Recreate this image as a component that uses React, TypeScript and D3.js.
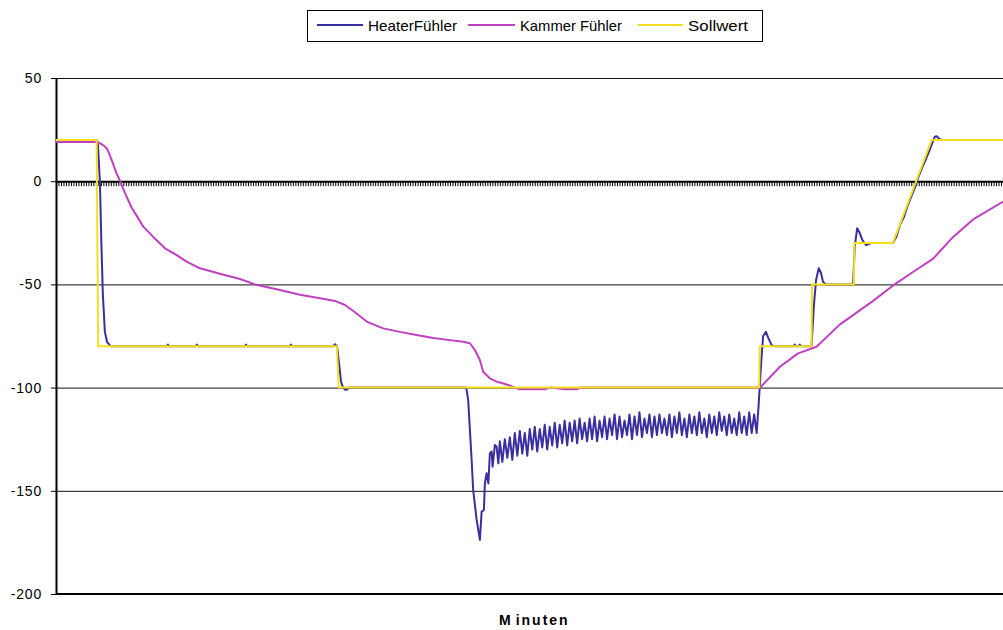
import React, { useEffect, useRef } from 'react'
import * as d3 from 'd3'

// categories on the x axis (one per minute), y axis ticks
const minuteCount = 385
const yTicks = [-200, -150, -100, -50, 0, 50]
const gridTicks = [-150, -100, -50, 50]

const seriesNames = ['HeaterFühler', 'Kammer Fühler', 'Sollwert']
const seriesColors = ['#3a2f9f', '#c13fc1', '#f4e01f']

// [minute, value]
const heaterStart = [
    [0, 20], [16.3, 20], [16.8, 18], [17.6, 0], [18.2, -30], [18.8, -55], [19.6, -73], [20.5, -78], [22, -80],
    [44.4, -80], [44.9, -79.2], [45.4, -80], [56, -80], [56.5, -79.2], [57, -80],
    [75.7, -80], [76.2, -79.2], [76.7, -80], [93.7, -80], [94.2, -79.2], [94.7, -80],
    [111.1, -80], [111.9, -79], [112.7, -80], [113.5, -88], [114.3, -97], [115.1, -100], [115.9, -101], [116.7, -101], [117.5, -100],
    [164.4, -100], [164.7, -101.2], [165.3, -106], [166, -120.6], [166.7, -135.3], [167.3, -149.6], [168.7, -164.1],
    [170, -173.8], [170.7, -160.1], [171.6, -159.3], [172, -146.4], [172.7, -141.5], [173.4, -146.4], [174, -131.8],
    [174.7, -131], [175.1, -138.3], [176, -127.8], [176.7, -128.6], [177.4, -136.7],
]

// one value per minute from heaterRippleFrom on
const heaterRippleFrom = 178
const heaterRipple = [
    -126, -136, -125, -134, -124, -135, -122, -133, -121, -132,
    -122, -133, -120, -130, -119, -131, -120, -129, -118, -130,
    -119, -128, -117, -129, -118, -127, -116, -128, -117, -126,
    -116, -127, -115, -125, -117, -126, -115, -125, -114, -126,
    -116, -124, -114, -125, -115, -123, -113, -125, -114, -124,
    -116, -123, -113, -125, -114, -123, -112, -124, -115, -122,
    -113, -124, -114, -123, -113, -122, -115, -123, -113, -124,
    -114, -122, -112, -123, -115, -124, -113, -122, -114, -123,
    -112, -122, -115, -124, -113, -122, -114, -123, -112, -121,
    -114, -123, -113, -122, -115, -123, -112, -122, -114, -123,
    -112, -122, -113, -122,
]

const heaterEnd = [
    [281.7, -110], [282.3, -98], [282.9, -86], [283.6, -75], [284.7, -73], [285.7, -76], [287, -79.4], [288.3, -80],
    [295.8, -80], [296.3, -79.2], [296.8, -80], [297.8, -80], [298.3, -79.2], [298.8, -80],
    [303, -80], [303.9, -61], [304.8, -48], [305.9, -42.2], [306.8, -44.5], [307.6, -48.7], [308.7, -50],
    [319.7, -50], [320.3, -32], [321.3, -22.8], [322.3, -25], [323.4, -28.5], [324.9, -31], [326.9, -30],
    [335.6, -30], [337, -27], [338.5, -21], [340, -17.5], [341.5, -12], [343, -7.5], [344.5, -3], [346, 2.5],
    [347.5, 7], [349, 11], [350.5, 15.5], [351.6, 19], [352.4, 21.5], [353.2, 21.8], [354.2, 20.5], [355.4, 20], [385, 20],
]

const kammer = [
    [0, 19], [16.2, 19], [17.6, 18.4], [19, 17.4], [20.3, 16], [21.3, 13.5], [22.3, 10.3], [24.3, 3.8], [25.7, 0],
    [27.7, -5.9], [30.4, -13], [33, -18], [35, -22], [39, -27], [43.7, -32.5], [48.4, -35.8], [52.4, -39],
    [57.7, -42.2], [65.7, -44.8], [73.8, -47.4], [79.8, -50], [89.8, -52.7], [97.8, -55], [105.9, -56.7], [111.9, -58],
    [115.9, -60], [119.9, -63.5], [124.6, -68], [131.2, -71.3], [137.9, -73], [144.6, -74.5], [151.3, -76], [158, -77],
    [163.3, -77.8], [166, -78.5], [168, -81.8], [170, -86.6], [171.3, -92.3], [174, -95.5], [176.7, -97.1], [178, -97.5],
    [181.4, -98.7], [184, -100], [186, -100.8], [196.1, -100.8], [198.1, -100], [204.1, -100.8], [208.9, -100.8],
    [210.1, -100], [282.4, -100], [290.3, -89.9], [297.6, -83.4], [305, -80.2], [314.3, -69.5], [327.7, -58],
    [335.7, -50.5], [343.7, -44], [351.8, -37.5], [359.8, -27], [367.8, -18.5], [379.7, -10], [385, -7.5],
]

const sollwert = [
    [0, 20], [16.3, 20], [16.9, -80], [112.6, -80], [113.4, -100], [282, -100], [282.2, -80], [303, -80], [303.2, -50],
    [320, -50], [320.2, -30], [335.6, -30], [351.2, 20], [385, 20],
]

const font = "'Liberation Sans', Arial, sans-serif"

const App = () => {
    const ref = useRef(null)

    useEffect(() => {
        const svg = d3.select(ref.current)
        svg.selectAll('*').remove()

        const left = 56, right = 1016, top = 78, bottom = 594

        const x = d3.scaleLinear().domain([0, minuteCount]).range([left, right])
        const y = d3.scaleLinear().domain([-200, 50]).range([bottom, top])

        // gridlines
        svg.append('g')
            .selectAll('line')
            .data(gridTicks)
            .join('line')
            .attr('x1', left)
            .attr('x2', right)
            .attr('y1', d => y(d) + 0.5)
            .attr('y2', d => y(d) + 0.5)
            .attr('stroke', '#111')
            .attr('stroke-width', 1)

        // bottom border
        svg.append('line')
            .attr('x1', left)
            .attr('x2', right)
            .attr('y1', y(-200))
            .attr('y2', y(-200))
            .attr('stroke', '#000')
            .attr('stroke-width', 2)

        // y axis
        const yAxis = svg.append('g')
            .attr('transform', `translate(${left},0)`)
            .call(d3.axisLeft(y).tickValues(yTicks).tickSize(5).tickSizeOuter(0).tickPadding(9).tickFormat(d => String(d)))
        yAxis.select('.domain').attr('stroke', '#000').attr('stroke-width', 2)
        yAxis.selectAll('.tick line').attr('stroke', '#000')
        yAxis.selectAll('text')
            .attr('font-family', font)
            .attr('font-size', 14)
            .attr('letter-spacing', 0.8)
            .attr('fill', '#000')

        // category axis crossing at 0
        const xAxis = svg.append('g')
            .attr('transform', `translate(0,${y(0)})`)
            .call(d3.axisBottom(x).tickValues(d3.range(0, minuteCount + 1)).tickSize(5).tickSizeOuter(0).tickFormat(() => ''))
        xAxis.select('.domain').attr('stroke', '#000').attr('stroke-width', 2)
        xAxis.selectAll('.tick line').attr('stroke', '#000').attr('stroke-width', 1)

        // series
        const heater = [
            ...heaterStart,
            ...heaterRipple.map((v, i) => [heaterRippleFrom + i, v]),
            ...heaterEnd,
        ]
        const line = d3.line().x(d => x(d[0])).y(d => y(d[1]))

        const allSeries = [heater, kammer, sollwert]
        svg.append('g')
            .selectAll('path')
            .data(allSeries)
            .join('path')
            .attr('d', d => line(d))
            .attr('fill', 'none')
            .attr('stroke', (d, i) => seriesColors[i])
            .attr('stroke-width', 2)
            .attr('stroke-linejoin', 'round')

        // legend
        const legend = svg.append('g')
        legend.append('rect')
            .attr('x', 307.5)
            .attr('y', 10.5)
            .attr('width', 455)
            .attr('height', 31)
            .attr('fill', '#fff')
            .attr('stroke', '#000')
            .attr('stroke-width', 1)

        const legendLines = [[317, 363], [468, 515], [638, 683]]
        const legendTextX = [368, 520, 688]
        const legendTextW = [89, 102, 60]
        seriesNames.forEach((name, i) => {
            legend.append('line')
                .attr('x1', legendLines[i][0])
                .attr('x2', legendLines[i][1])
                .attr('y1', 25)
                .attr('y2', 25)
                .attr('stroke', seriesColors[i])
                .attr('stroke-width', 2)
            legend.append('text')
                .attr('x', legendTextX[i])
                .attr('y', 31)
                .attr('font-family', font)
                .attr('font-size', 15)
                .attr('textLength', legendTextW[i])
                .attr('lengthAdjust', 'spacingAndGlyphs')
                .attr('fill', '#000')
                .text(name)
        })

        // x axis title
        const title = svg.append('text')
            .attr('x', 499)
            .attr('y', 625)
            .attr('font-family', font)
            .attr('font-size', 14)
            .attr('font-weight', 'bold')
            .attr('letter-spacing', 2)
            .attr('fill', '#000')
        title.append('tspan').text('M')
        title.append('tspan').attr('dx', 3).text('inuten')
    }, [])

    return (
        <div style={{ position: 'absolute', left: 0, top: 0 }}>
            <svg ref={ref} width={1003} height={630} style={{ display: 'block', background: '#fff' }} />
        </div>
    )
}

export default App
